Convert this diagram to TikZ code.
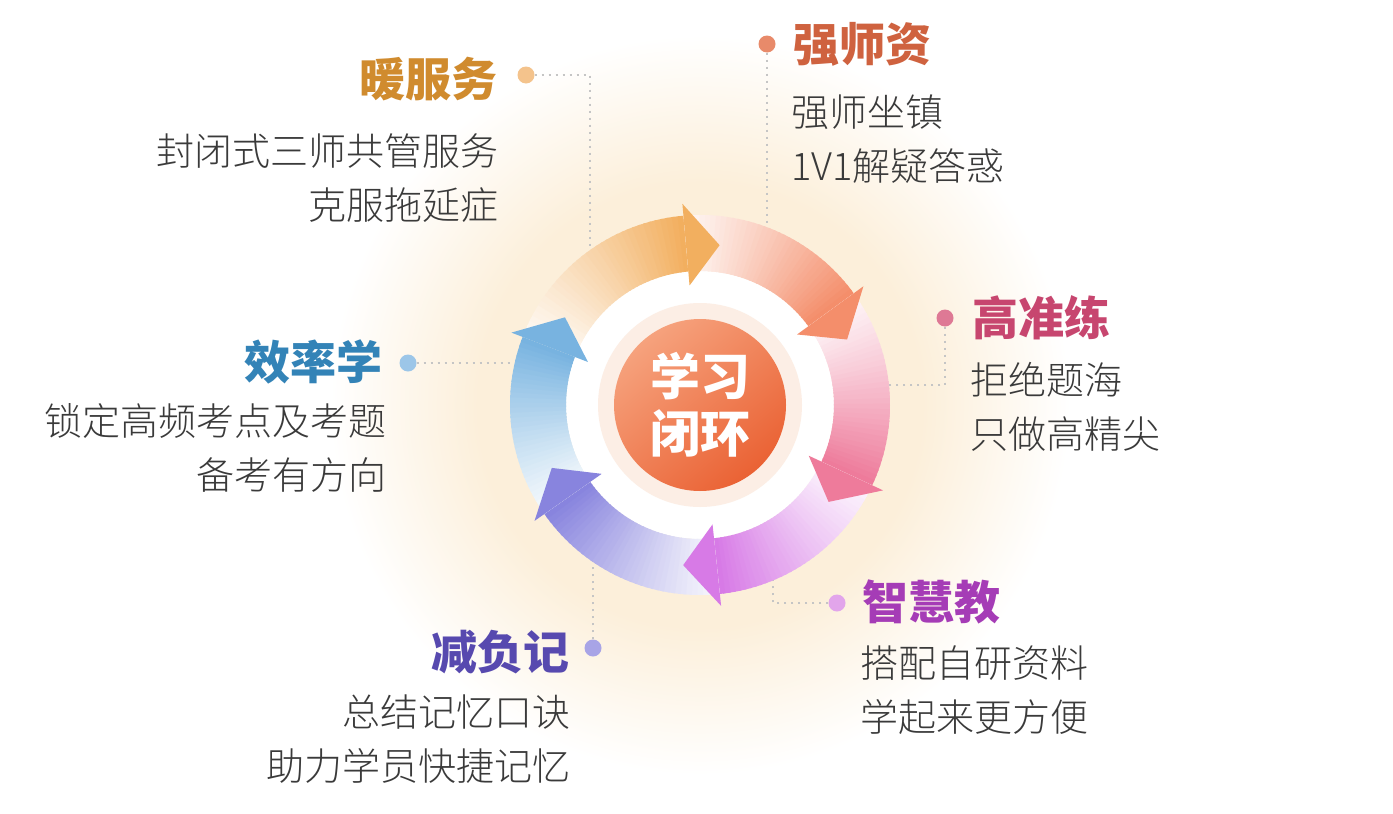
\documentclass[tikz,border=0pt]{standalone}
\usepackage{fontspec}
\newfontfamily\cjk{Noto Sans CJK SC}
\newfontfamily\cjkl{Noto Sans CJK SC Light}
\usetikzlibrary{calc}
\definecolor{glow}{HTML}{FCEFDA}
\definecolor{cO}{HTML}{F2AF5F}
\definecolor{cS}{HTML}{F48E6B}
\definecolor{cP}{HTML}{EE7B9B}
\definecolor{cM}{HTML}{D77AE6}
\definecolor{cV}{HTML}{8884DE}
\definecolor{cB}{HTML}{78B3E0}
\definecolor{halo}{HTML}{FCEEE5}
\definecolor{ctrA}{HTML}{F6A27D}
\definecolor{ctrB}{HTML}{EA6234}
\definecolor{tO}{HTML}{D08B2E}
\definecolor{tS}{HTML}{CF623F}
\definecolor{tP}{HTML}{C7466F}
\definecolor{tB}{HTML}{3383B7}
\definecolor{tM}{HTML}{A53CB6}
\definecolor{tV}{HTML}{5749AF}
\definecolor{dO}{HTML}{F4C38C}
\definecolor{dS}{HTML}{E88A6A}
\definecolor{dP}{HTML}{DE7995}
\definecolor{dB}{HTML}{9CC6E8}
\definecolor{dM}{HTML}{E2A5EB}
\definecolor{dV}{HTML}{A8A4E6}
\definecolor{connc}{HTML}{C5C5C5}
\definecolor{bodyc}{HTML}{3A3A3A}
\pgfdeclareradialshading{glowshade}{\pgfpoint{0bp}{0bp}}{color(0bp)=(glow); color(15bp)=(glow); color(25bp)=(white); color(50bp)=(white)}
\newcommand\arrowbody[3]{%
  \foreach \i in {0,...,35}{%
    \pgfmathsetmacro\aa{#1+(#2-#1)*\i/36}%
    \pgfmathsetmacro\ab{#1+(#2-#1)*min(\i+1.4,36)/36}%
    \pgfmathtruncatemacro\pp{8+92*(\i/35)^1.1}%
    \fill[#3!\pp!white] (\aa:134) arc[start angle=\aa, end angle=\ab, radius=134] -- (\ab:190) arc[start angle=\ab, end angle=\aa, radius=190] -- cycle;
  }}
\newcommand\arrowtip[2]{\fill[#2] (#1:120) -- ({#1-12}:161) -- (#1:202) -- cycle;}
\begin{document}
\begin{tikzpicture}[x=1pt,y=-1pt,
  conn/.style={draw=connc, line width=1.6pt, dash pattern=on 2pt off 5pt},
  dotnode/.style={circle, inner sep=0pt, minimum size=17pt},
  ttl/.style={inner sep=0pt, font=\cjk\bfseries\fontsize{46}{50}\selectfont},
  bodytxt/.style={inner sep=0pt, text=bodyc, font=\cjkl\fontsize{38}{54}\selectfont},
]
\path[use as bounding box] (0,0) rectangle (1393,814);
\fill[white] (0,0) rectangle (1393,814);
\shade[shading=glowshade] (700,405) circle (370);

% dots and connectors
\node[dotnode, fill=dO] (d1) at (526,75) {};
\node[dotnode, fill=dS] (d2) at (767,44) {};
\node[dotnode, fill=dP] (d3) at (945,318) {};
\node[dotnode, fill=dM] (d4) at (837,603) {};
\node[dotnode, fill=dV] (d5) at (593,648) {};
\node[dotnode, fill=dB] (d6) at (408,363) {};
\coordinate (e1) at (590,255);
\coordinate (e2) at (767,235);
\coordinate (e3) at (880,385);
\coordinate (e4) at (773,570);
\coordinate (e5) at (593,550);
\coordinate (e6) at (520,363);
\draw[conn] (d1) -| (e1);
\draw[conn] (d2) -- (e2);
\draw[conn] (d3) |- (e3);
\draw[conn] (d4) -| (e4);
\draw[conn] (d5) -- (e5);
\draw[conn] (d6) -- (e6);

% ring of arrows
\begin{scope}[shift={(700,405)}, yscale=-1]
  \fill[white] (0,0) circle (134);
  \arrowbody{159}{95}{cO}
  \arrowbody{95}{36}{cS}
  \arrowbody{36}{-25}{cP}
  \arrowbody{-25}{-84}{cM}
  \arrowbody{-84}{-145}{cV}
  \arrowbody{-145}{-201}{cB}
  \arrowtip{95}{cO}
  \arrowtip{36}{cS}
  \arrowtip{-25}{cP}
  \arrowtip{-84}{cM}
  \arrowtip{-145}{cV}
  \arrowtip{159}{cB}
  \fill[halo] (0,0) circle (102);
\end{scope}
\node[circle, minimum size=172pt, inner sep=0pt, top color=ctrA, bottom color=ctrB, shading angle=40,
  text=white, align=center, font=\cjk\bfseries\fontsize{50}{57}\selectfont] (ctr) at (700,405) {学习\\闭环};

% titles
\node[ttl, text=tO, anchor=east] (t1) at (498,79) {暖服务};
\node[ttl, text=tS, anchor=west] (t2) at (793,44) {强师资};
\node[ttl, text=tP, anchor=west] (t3) at (972,318) {高准练};
\node[ttl, text=tM, anchor=west] (t4) at (862,602) {智慧教};
\node[ttl, text=tV, anchor=east] (t5) at (570,652) {减负记};
\node[ttl, text=tB, anchor=east] (t6) at (383,362) {效率学};

% bodies
\node[bodytxt, anchor=east, align=right] (b1) at (499,178.5) {封闭式三师共管服务\\克服拖延症};
\node[bodytxt, anchor=west, align=left] (b2) at (791,139) {强师坐镇\\1V1解疑答惑};
\node[bodytxt, anchor=west, align=left] (b3) at (970,407) {拒绝题海\\只做高精尖};
\node[bodytxt, anchor=west, align=left] (b4) at (860,690) {搭配自研资料\\学起来更方便};
\node[bodytxt, anchor=east, align=right] (b5) at (571,739) {总结记忆口诀\\助力学员快捷记忆};
\node[bodytxt, anchor=east, align=right] (b6) at (387,448) {锁定高频考点及考题\\备考有方向};
\end{tikzpicture}
\end{document}
